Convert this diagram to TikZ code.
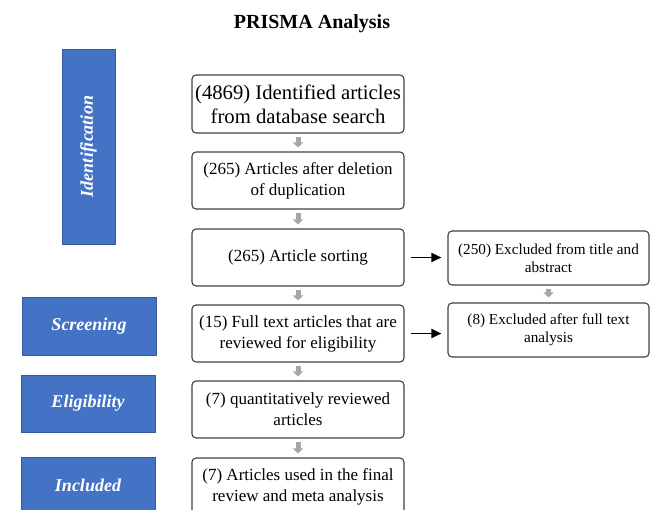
\documentclass[tikz,border=0pt]{standalone}
\usepackage{fontspec}
\setmainfont{Liberation Serif}
\usetikzlibrary{arrows.meta}

\definecolor{stageblue}{HTML}{4472C4}
\definecolor{boxline}{HTML}{404040}
\definecolor{arrowgray}{HTML}{A6A6A6}

\begin{document}
\begin{tikzpicture}[x=1pt,y=-1pt,
	stage/.style={rectangle,fill=stageblue,draw=stageblue!80!black,line width=0.6pt,
		text=white,font=\fontsize{18}{21}\selectfont\bfseries\itshape},
	flowbox/.style={rectangle,rounded corners=4pt,draw=boxline,line width=1.1pt,
		minimum width=212pt,minimum height=57pt,inner xsep=2pt,align=center,
		font=\fontsize{17}{21}\selectfont},
	sidebox/.style={flowbox,minimum width=201pt,minimum height=54pt,
		font=\fontsize{15.2}{18}\selectfont},
	down/.style={draw=arrowgray,line width=5pt,-{Triangle[length=5pt,width=10pt]},
		shorten <=3pt,shorten >=4pt},
	sideways/.style={draw=black,line width=1.8pt,-{Triangle[length=10pt,width=9pt]},
		shorten <=6pt,shorten >=6pt}]
	\clip (0,0) rectangle (656,509);

	\node[anchor=base,font=\fontsize{20}{24}\selectfont\bfseries] (title) at (312,28) {PRISMA Analysis};

	% stages on the left
	\node[stage,rotate=90,minimum width=195pt,minimum height=53pt] (ident) at (88.5,146.5) {Identification};
	\node[stage,minimum width=134pt,minimum height=58pt] (screen) at (89,326) {Screening};
	\node[stage,minimum width=134pt,minimum height=57pt] (elig) at (88,403.5) {Eligibility};
	\node[stage,minimum width=134pt,minimum height=57pt] (incl) at (88,485.5) {Included};

	% main column
	\node[flowbox,minimum height=58pt,font=\fontsize{20.7}{24}\selectfont] (found) at (298,104)
		{(4869) Identified articles\\from database search};
	\node[flowbox] (dedup) at (298,180.5) {(265) Articles after deletion\\of duplication};
	\node[flowbox] (sort) at (298,257.5) {(265) Article sorting};
	\node[flowbox] (full) at (298,333.5) {(15) Full text articles that are\\reviewed for eligibility};
	\node[flowbox] (quant) at (298,409.5) {(7) quantitatively reviewed\\articles};
	\node[flowbox] (final) at (298,486.5) {(7) Articles used in the final\\review and meta analysis};

	% excluded column
	\node[sidebox] (exabs) at (548.5,258) {(250) Excluded from title and\\abstract};
	\node[sidebox] (exfull) at (548.5,330) {(8) Excluded after full text\\analysis};

	\draw[down] (found) -- (dedup);
	\draw[down] (dedup) -- (sort);
	\draw[down] (sort) -- (full);
	\draw[down] (full) -- (quant);
	\draw[down] (quant) -- (final);
	\draw[down,shorten <=3pt,shorten >=5pt] (exabs) -- (exfull);

	\draw[sideways] (sort.east) -- (sort.east -| exabs.west);
	\draw[sideways] (full.east) -- (full.east -| exfull.west);
\end{tikzpicture}
\end{document}
